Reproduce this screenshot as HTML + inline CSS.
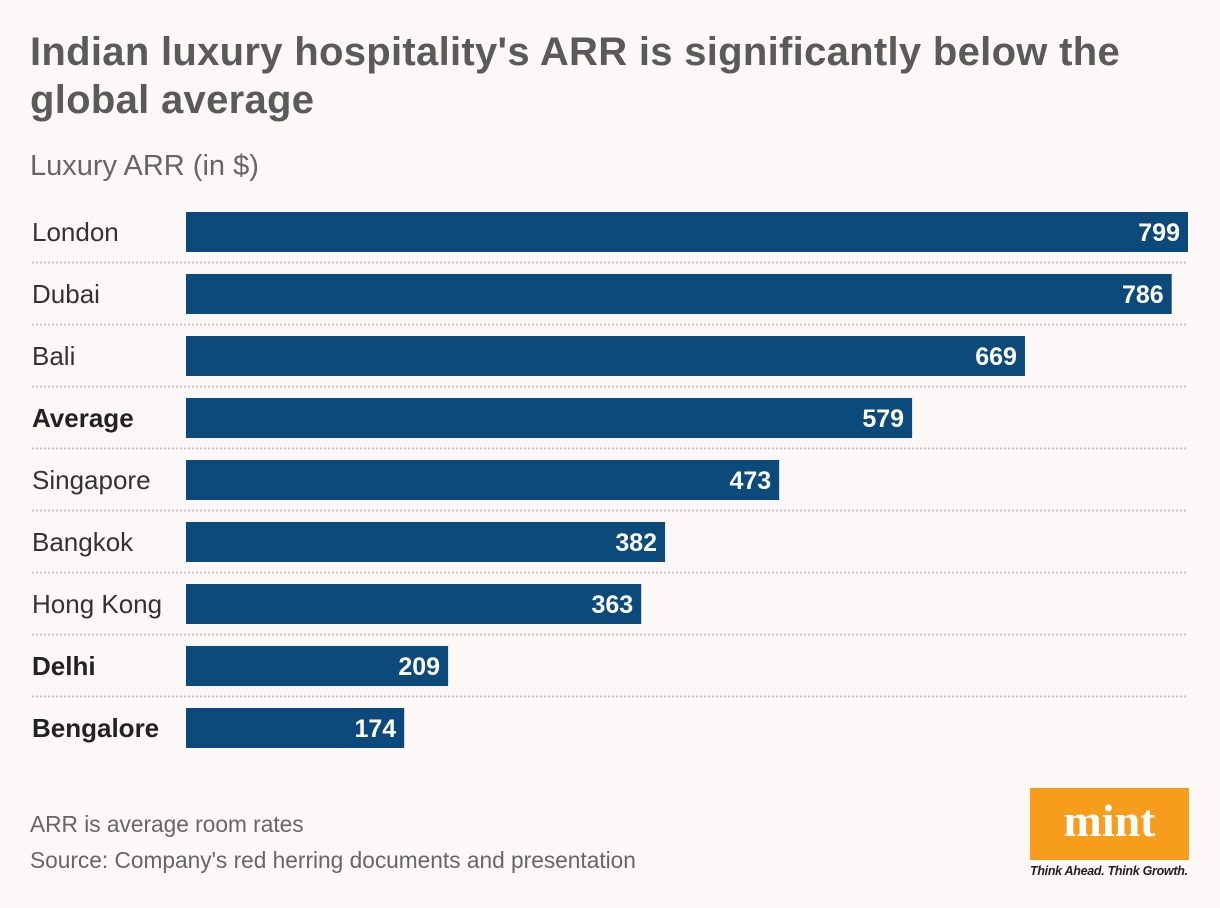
<!DOCTYPE html>
<html><head><meta charset="utf-8"><style>
body{margin:0;width:1220px;height:908px;background:#fdf8f8;font-family:"Liberation Sans",sans-serif;position:relative;overflow:hidden}
.t{position:absolute;left:30px;top:28px;font-size:40px;font-weight:bold;color:#5a5a5a;line-height:48px;letter-spacing:0.3px;margin:0;white-space:nowrap}
.sub{position:absolute;left:30px;top:150px;font-size:29px;color:#666}
.note{position:absolute;left:30px;font-size:22.7px;color:#666}
</style></head><body>
<h1 class="t">Indian luxury hospitality's ARR is significantly below the<br>global average</h1>
<div class="sub">Luxury ARR (in $)</div>
<svg id="c" width="1220" height="780" style="position:absolute;left:0;top:0"></svg>
<div class="note" style="top:811px">ARR is average room rates</div>
<div class="note" style="top:847px">Source: Company's red herring documents and presentation</div>
<div style="position:absolute;left:1030px;top:788px;width:159px;height:72px;background:#f89c1c;color:#fff;font-family:'Liberation Serif',serif;font-weight:bold;font-size:46px;text-align:center;line-height:66px">mint</div>
<div style="position:absolute;left:1030px;top:864px;font-size:12.5px;font-style:italic;font-weight:bold;color:#222;letter-spacing:-0.3px">Think Ahead. Think Growth.</div>
<script>
const categories=["London","Dubai","Bali","Average","Singapore","Bangkok","Hong Kong","Delhi","Bengalore"];
const values=[799,786,669,579,473,382,363,209,174];
const boldCats=["Average","Delhi","Bengalore"];
const svg=document.getElementById('c');const NS="http://www.w3.org/2000/svg";
const x0=186,pxPer=1002/799,top0=212,pitch=62,bh=40;
const x=v=>x0+v*pxPer;
categories.forEach((c,i)=>{
 const y=top0+i*pitch;
 const lab=document.createElementNS(NS,'text');
 
 
 lab.setAttribute('x',32);lab.setAttribute('y',y+29);
 lab.setAttribute('font-size','26');lab.setAttribute('fill','#333');
 if(boldCats.includes(c)){lab.setAttribute('font-weight','bold');lab.setAttribute('fill','#222');}
 lab.textContent=c;svg.appendChild(lab);
 const r=document.createElementNS(NS,'rect');
 
 
 r.setAttribute('x',x0);r.setAttribute('y',y);r.setAttribute('width',x(values[i])-x0);r.setAttribute('height',bh);r.setAttribute('fill','#0b4a7a');
 svg.appendChild(r);
 const vt=document.createElementNS(NS,'text');
 
 
 vt.setAttribute('x',x(values[i])-8);vt.setAttribute('y',y+29);vt.setAttribute('text-anchor','end');
 vt.setAttribute('font-size','25');vt.setAttribute('font-weight','bold');vt.setAttribute('fill','#fff');
 vt.textContent=values[i];svg.appendChild(vt);
 if(i<categories.length-1){
  const l=document.createElementNS(NS,'line');
  
  
  l.setAttribute('x1',32);l.setAttribute('x2',1188);l.setAttribute('y1',y+50.5);l.setAttribute('y2',y+50.5);
  l.setAttribute('stroke','#c8c8c8');l.setAttribute('stroke-width','2');l.setAttribute('stroke-dasharray','2 2');
  svg.appendChild(l);
 }
});
</script>
</body></html>
